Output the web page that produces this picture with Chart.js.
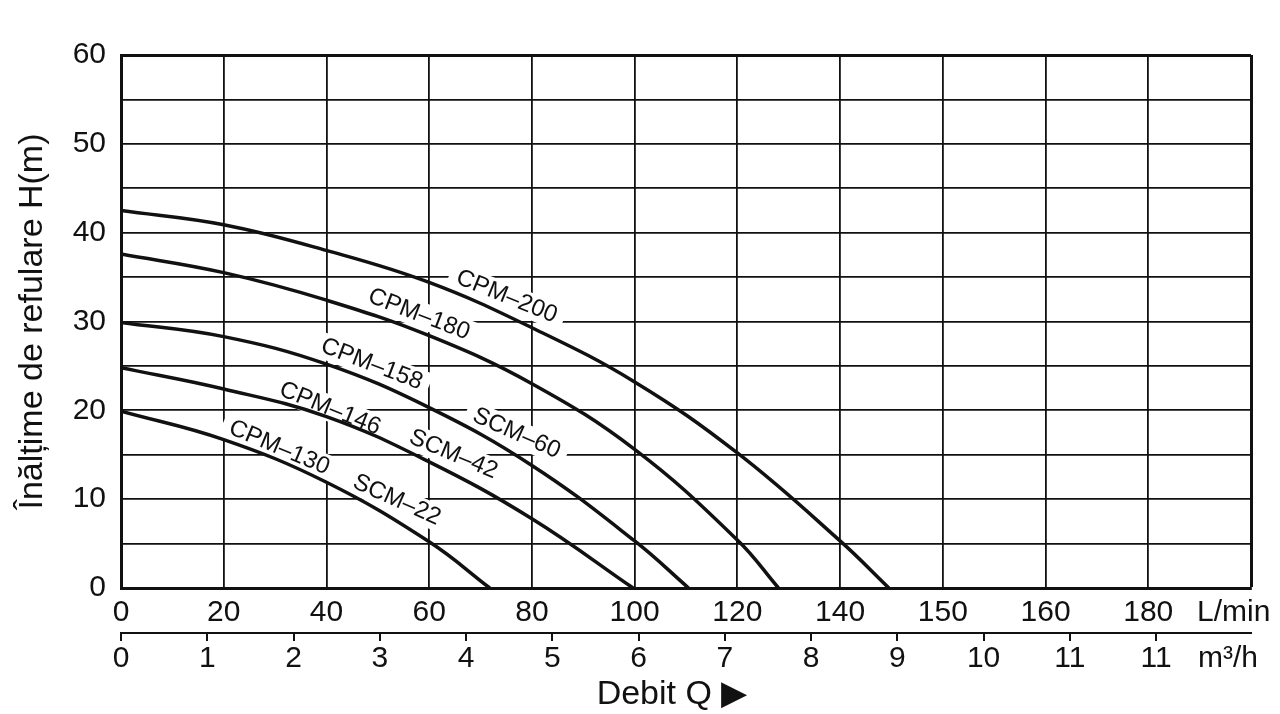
<!DOCTYPE html>
<html>
<head>
<meta charset="utf-8">
<script src="https://cdn.jsdelivr.net/npm/chart.js@4.4.1/dist/chart.umd.min.js"></script>
<style>
html,body{margin:0;padding:0;background:#fff;}
#wrap{width:1280px;height:714px;position:relative;}
</style>
</head>
<body>
<div id="wrap"><canvas id="c" width="1280" height="714"></canvas></div>
<script>
// ---------- DATA ----------
const seriesNames = ['CPM–200', 'CPM–180', 'CPM–158', 'CPM–146', 'CPM–130'];

const flowCPM200 = [0, 20, 40, 60, 80, 100, 120, 140, 149.5];
const headCPM200 = [42.5, 40.9, 38.0, 34.4, 29.3, 23.2, 15.2, 5.3, 0];

const flowCPM180 = [0, 20, 40, 60, 80, 100, 120, 128];
const headCPM180 = [37.6, 35.5, 32.4, 28.4, 23.0, 15.6, 5.4, 0];

const flowCPM158 = [0, 20, 40, 60, 80, 100, 110.5];
const headCPM158 = [29.9, 28.3, 25.2, 20.3, 13.8, 5.3, 0];

const flowCPM146 = [0, 20, 40, 60, 80, 99.7];
const headCPM146 = [24.8, 22.4, 19.3, 14.2, 7.8, 0];

const flowCPM130 = [0, 20, 40, 60, 71.8];
const headCPM130 = [19.9, 16.7, 11.9, 5.2, 0];

const xTickLabels = ['0', '20', '40', '60', '80', '100', '120', '140', '150', '160', '180'];
const m3hTickLabels = ['0', '1', '2', '3', '4', '5', '6', '7', '8', '9', '10', '11', '11'];
const yTickLabels = ['0', '10', '20', '30', '40', '50', '60'];

const yTitle = 'Înălțime de refulare H(m)';
const xTitle = 'Debit Q ▶';
const unitLmin = 'L/min';
const unitM3h = 'm³/h';

// curve labels (anchor in data coordinates, angle in degrees)
const curveLabels = [
  { text: 'CPM–200', flow: 75.1, head: 32.8, angle: 22 },
  { text: 'CPM–180', flow: 58.0, head: 30.8, angle: 21 },
  { text: 'CPM–158', flow: 48.8, head: 25.2, angle: 21 },
  { text: 'CPM–146', flow: 40.7, head: 20.2, angle: 22 },
  { text: 'CPM–130', flow: 30.8, head: 15.8, angle: 23 },
  { text: 'SCM–60', flow: 77.0, head: 17.4, angle: 24 },
  { text: 'SCM–42', flow: 64.7, head: 15.05, angle: 23 },
  { text: 'SCM–22', flow: 53.7, head: 9.9, angle: 24 }
];

// ---------- CHART ----------
const FONT = '"Liberation Sans", Arial, Helvetica, sans-serif';
const INK = '#111111';
Chart.defaults.font.family = FONT;
Chart.defaults.color = INK;

const flows = [flowCPM200, flowCPM180, flowCPM158, flowCPM146, flowCPM130];
const heads = [headCPM200, headCPM180, headCPM158, headCPM146, headCPM130];

const datasets = seriesNames.map((name, k) => ({
  label: name,
  data: flows[k].map((f, i) => ({ x: f, y: heads[k][i] })),
  borderColor: INK,
  borderWidth: 3.5,
  pointRadius: 0,
  fill: false,
  tension: 0.4,
  xAxisID: 'x',
  yAxisID: 'y'
}));

const annot = {
  id: 'annot',
  beforeDatasetsDraw(chart) {
    const { ctx } = chart;
    const x = chart.scales.x, y = chart.scales.y;
    ctx.save();
    ctx.font = '24px ' + FONT;
    curveLabels.forEach(l => {
      const px = x.getPixelForValue(l.flow), py = y.getPixelForValue(l.head);
      const w = ctx.measureText(l.text).width;
      ctx.save();
      ctx.translate(px, py);
      ctx.rotate(l.angle * Math.PI / 180);
      ctx.fillStyle = '#ffffff';
      ctx.fillRect(-w / 2 - 8, -13, w + 16, 26);
      ctx.restore();
    });
    ctx.restore();
  },
  afterDatasetsDraw(chart) {
    const { ctx } = chart;
    const x = chart.scales.x, y = chart.scales.y;
    ctx.save();
    ctx.font = '24px ' + FONT;
    ctx.fillStyle = INK;
    ctx.textAlign = 'center';
    ctx.textBaseline = 'middle';
    curveLabels.forEach(l => {
      const px = x.getPixelForValue(l.flow), py = y.getPixelForValue(l.head);
      ctx.save();
      ctx.translate(px, py);
      ctx.rotate(l.angle * Math.PI / 180);
      ctx.fillText(l.text, 0, 0);
      ctx.restore();
    });
    ctx.restore();
  },
  afterDraw(chart) {
    const { ctx } = chart;
    const x = chart.scales.x, x2 = chart.scales.x2;
    ctx.save();
    ctx.fillStyle = INK;
    ctx.textBaseline = 'middle';
    ctx.textAlign = 'left';
    ctx.font = '30px ' + FONT;
    ctx.fillText(unitLmin, x.right - 54, x.top + 25);
    ctx.fillText(unitM3h, x.right - 53, x2.top + 26);
    ctx.textAlign = 'center';
    ctx.font = '34px ' + FONT;
    ctx.fillText(xTitle, (x.left + x.right) / 2 - 14, x2.top + 62);
    ctx.restore();
  }
};

new Chart(document.getElementById('c'), {
  type: 'line',
  data: { datasets },
  plugins: [annot],
  options: {
    responsive: false,
    animation: false,
    layout: { padding: { left: 0, top: 55, right: 29, bottom: 0 } },
    plugins: { legend: { display: false }, tooltip: { enabled: false } },
    scales: {
      x: {
        type: 'linear', position: 'bottom', weight: 0,
        min: 0, max: 220,
        ticks: {
          stepSize: 20, autoSkip: false, maxRotation: 0, padding: 7,
          font: { size: 30 }, color: INK,
          callback: v => { const i = Math.round(v / 20); return i < xTickLabels.length ? xTickLabels[i] : ''; }
        },
        grid: {
          color: INK, drawTicks: false,
          lineWidth: c => (c.tick && c.tick.value === 220) ? 3 : 1.8
        },
        border: { display: true, color: INK, width: 3 },
        afterFit: s => { s.height = 45; }
      },
      x2: {
        type: 'linear', position: 'bottom', weight: 1,
        min: 0, max: 13.1,
        afterBuildTicks: s => { s.ticks = s.ticks.filter(t => t.value <= 12); },
        ticks: {
          stepSize: 1, autoSkip: false, maxRotation: 0, padding: 0,
          font: { size: 30 }, color: INK,
          callback: v => m3hTickLabels[Math.round(v)] ?? ''
        },
        grid: { drawOnChartArea: false, drawTicks: true, tickLength: 8, color: INK, lineWidth: 2 },
        border: { display: true, color: INK, width: 2 },
        afterFit: s => { s.height = 81; }
      },
      y: {
        type: 'linear', position: 'left',
        min: 0, max: 60,
        ticks: {
          stepSize: 5, autoSkip: false, padding: 15,
          font: { size: 30 }, color: INK,
          callback: v => (v % 10 === 0) ? yTickLabels[v / 10] : ''
        },
        grid: {
          color: INK, drawTicks: false,
          lineWidth: c => (c.tick && c.tick.value === 60) ? 3 : 1.8
        },
        border: { display: true, color: INK, width: 3 },
        title: {
          display: true, text: yTitle, color: INK,
          font: { size: 34 }, padding: { top: 12, bottom: 0 }
        },
        afterFit: s => { s.width = 121; }
      }
    }
  }
});
</script>
</body>
</html>
